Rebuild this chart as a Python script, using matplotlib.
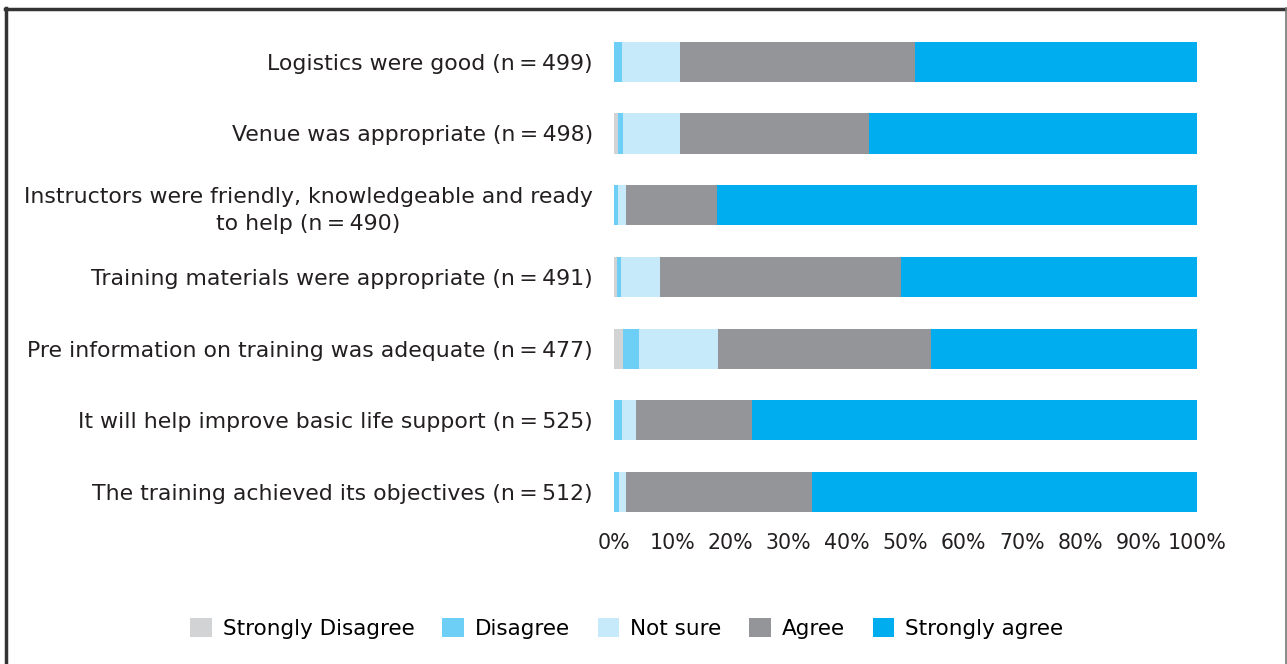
import numpy as np
import matplotlib.pyplot as plt
from matplotlib.lines import Line2D

plt.rcParams['font.family'] = ['DejaVu Sans']

# statements, top to bottom
labels = [
    'Logistics were good (n\u2009=\u2009499)',
    'Venue was appropriate (n\u2009=\u2009498)',
    'Instructors were friendly, knowledgeable and ready\nto help (n\u2009=\u2009490)',
    'Training materials were appropriate (n\u2009=\u2009491)',
    'Pre information on training was adequate (n\u2009=\u2009477)',
    'It will help improve basic life support (n\u2009=\u2009525)',
    'The training achieved its objectives (n\u2009=\u2009512)',
]

# percentages per response category
strongly_disagree = [0.0, 0.7, 0.0, 0.5, 1.6, 0.0, 0.0]
disagree = [1.4, 0.9, 0.7, 0.7, 2.7, 1.4, 0.9]
not_sure = [10.0, 9.8, 1.4, 6.7, 13.6, 2.4, 1.2]
agree = [40.3, 32.4, 15.6, 41.3, 36.5, 19.9, 31.9]
strongly_agree = [48.3, 56.2, 82.3, 50.8, 45.6, 76.3, 66.0]

series = ['Strongly Disagree', 'Disagree', 'Not sure', 'Agree', 'Strongly agree']
colors = ['#d1d3d4', '#6dcff6', '#c7eafb', '#939598', '#00aeef']
values = [strongly_disagree, disagree, not_sure, agree, strongly_agree]

fig = plt.figure(figsize=(12.87, 6.64), dpi=100)
ax = fig.add_axes([0.477, 0.205, 0.453, 0.756])

y = np.arange(len(labels))
left = np.zeros(len(labels))
for name, col, vals in zip(series, colors, values):
    ax.barh(y, vals, left=left, height=0.56, color=col, label=name)
    left += np.array(vals)

ax.set_xlim(0, 100)
ax.set_ylim(len(labels) - 0.5, -0.5)
ax.set_yticks(y)
ax.set_yticklabels(labels, fontsize=15.8, color='#231f20', multialignment='center',
                   linespacing=1.45)
ax.set_xticks(np.arange(0, 101, 10))
ax.set_xticklabels([f'{v}%' for v in range(0, 101, 10)], fontsize=14.8, color='#231f20')
ax.tick_params(length=0, pad=4)
ax.tick_params(axis='y', pad=15)
for s in ax.spines.values():
    s.set_visible(False)

fig.legend(loc='center', bbox_to_anchor=(0.487, 0.054), ncol=5, frameon=False,
           fontsize=15.5, handlelength=1.0, handleheight=1.0, handletextpad=0.5,
           columnspacing=1.3)

# outer frame
fig.add_artist(Line2D([0.0045, 0.0045], [0, 0.988], color='#333333', lw=2.5, transform=fig.transFigure))
fig.add_artist(Line2D([0.0035, 1], [0.987, 0.987], color='#333333', lw=2.5, transform=fig.transFigure))
fig.add_artist(Line2D([0.9993, 0.9993], [0, 0.988], color='#777777', lw=1.2, transform=fig.transFigure))

fig.savefig('out.png', dpi=100)
